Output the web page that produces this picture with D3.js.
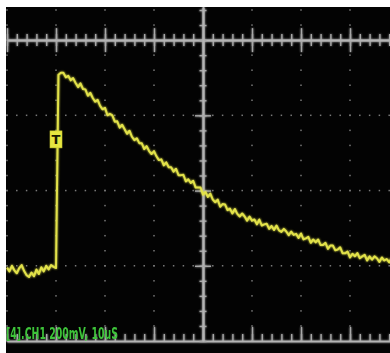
<!DOCTYPE html>
<html>
<head>
<meta charset="utf-8">
<script src="https://cdn.jsdelivr.net/npm/d3@7"></script>
<style>
  html, body { margin: 0; padding: 0; background: #fff; }
  svg { display: block; }
</style>
</head>
<body>
<svg id="scope" width="390" height="353"></svg>
<script>
// captured record: CH1, 0.5 us per sample, starting at -40 us
const T0_US = -40;
const DT_US = 0.5;
const ch1_mV = [
  -605, -615, -600, -612, -620, -606, -598, -614, -625, -630,
  -618, -628, -610, -622, -604, -615, -600, -610, -598, -603,
  -606, -92,
  -87, -87, -99, -95, -107, -101, -114, -125, -115, -130,
  -131, -148, -140, -154, -164, -159, -175, -184, -180, -200,
  -196, -200, -217, -216, -233, -225, -237, -249, -241, -257,
  -266, -261, -274, -274, -290, -282, -295, -303, -295, -309,
  -319, -317, -333, -325, -338, -338, -350, -342, -359, -359,
  -358, -376, -370, -380, -374, -392, -392, -392, -411, -404,
  -417, -408, -424, -431, -424, -443, -436, -437, -452, -448,
  -461, -449, -462, -469, -461, -469, -480, -469, -480, -477,
  -490, -477, -493, -490, -488, -502, -494, -505, -493, -506,
  -510, -502, -509, -519, -509, -518, -515, -526, -514, -530,
  -527, -523, -539, -530, -538, -530, -545, -545, -539, -555,
  -546, -546, -559, -557, -551, -567, -567, -562, -578, -568,
  -575, -566, -580, -575, -571, -586, -575, -584, -575, -580,
  -590, -578, -586, -582, -591, -580
];

// graticule: 10 us/div, 200 mV/div, 5 subdivisions
const majorT = [-40, -30, -20, -10, 0, 10, 20, 30, 40];
const minorT = d3.range(-40, 40.1, 2);
const majorV = [-800, -600, -400, -200, 0];
const minorV = d3.range(-800, 81, 40);

const TRIG_T_US = -30;
const TRIG_LEVEL_MV = -264;
const label = '[4].CH1 200mV, 10uS';

const svg = d3.select('#scope');

const defs = svg.append('defs');
const glow = defs.append('filter').attr('id', 'glow')
  .attr('x', '-10%').attr('y', '-10%').attr('width', '120%').attr('height', '120%');
glow.append('feGaussianBlur').attr('stdDeviation', 1.1).attr('result', 'b');
const merge = glow.append('feMerge');
merge.append('feMergeNode').attr('in', 'b');
merge.append('feMergeNode').attr('in', 'SourceGraphic');

defs.append('clipPath').attr('id', 'screen')
  .append('rect').attr('x', 6).attr('y', 7).attr('width', 384).attr('height', 346);

svg.append('rect')
  .attr('x', 6).attr('y', 7).attr('width', 384).attr('height', 346)
  .attr('fill', '#030303');

const x = d3.scaleLinear().domain([-40, 40]).range([7, 399]);
const y = d3.scaleLinear().domain([-800, 88]).range([341, 7]);

const g = svg.append('g').attr('clip-path', 'url(#screen)');

// dotted grid lines
const dots = g.append('g').attr('fill', '#7a7a7a');
majorV.filter(v => v > -800 && v < 0).forEach(v => {
  dots.selectAll(null)
    .data(minorT)
    .enter().append('rect')
    .attr('x', d => x(d) - 0.75).attr('y', y(v) - 0.75)
    .attr('width', 1.5).attr('height', 1.5);
});
majorT.filter(t => t !== 0).forEach(t => {
  dots.selectAll(null)
    .data(minorV)
    .enter().append('rect')
    .attr('x', x(t) - 0.75).attr('y', d => y(d) - 0.75)
    .attr('width', 1.5).attr('height', 1.5);
});

function styleAxis(sel) {
  sel.selectAll('.domain').attr('stroke', '#b4b4b4').attr('stroke-width', 1.5);
  sel.selectAll('.tick line').attr('stroke', '#a8a8a8').attr('stroke-width', 1.4);
  sel.selectAll('.tick text').remove();
}

const axes = g.append('g').attr('filter', 'url(#glow)');

// horizontal centre axis (top of the visible area)
const topY = y(0);
[[d3.axisBottom, minorT, 6], [d3.axisTop, minorT, 6],
 [d3.axisBottom, majorT, 12], [d3.axisTop, majorT, 12]].forEach(([ax, vals, size]) => {
  axes.append('g')
    .attr('transform', `translate(0,${topY})`)
    .call(ax(x).tickValues(vals).tickSize(size).tickSizeOuter(0).tickFormat(''))
    .call(styleAxis);
});

// bottom edge
[[minorT, 7], [majorT, 14]].forEach(([vals, size]) => {
  axes.append('g')
    .attr('transform', `translate(0,${y(-800)})`)
    .call(d3.axisTop(x).tickValues(vals).tickSize(size).tickSizeOuter(0).tickFormat(''))
    .call(styleAxis);
});

// vertical centre axis
[[d3.axisLeft, minorV, 3.5], [d3.axisRight, minorV, 3.5],
 [d3.axisLeft, majorV.filter(v => v > -800 && v < 0), 8],
 [d3.axisRight, majorV.filter(v => v > -800 && v < 0), 8]].forEach(([ax, vals, size]) => {
  axes.append('g')
    .attr('transform', `translate(${x(0)},0)`)
    .call(ax(y).tickValues(vals).tickSize(size).tickSizeOuter(0).tickFormat(''))
    .call(styleAxis);
});

// trace
const line = d3.line()
  .x((d, i) => x(T0_US + i * DT_US))
  .y(d => y(d));

g.append('path')
  .datum(ch1_mV)
  .attr('d', line)
  .attr('fill', 'none')
  .attr('stroke', '#e2e24a')
  .attr('stroke-width', 2)
  .attr('stroke-linejoin', 'round')
  .attr('filter', 'url(#glow)');

// trigger marker
const trig = g.append('g')
  .attr('transform', `translate(${x(TRIG_T_US)},${y(TRIG_LEVEL_MV)})`);
trig.append('rect')
  .attr('x', -6).attr('y', -8.5).attr('width', 12).attr('height', 17)
  .attr('fill', '#e6e640').attr('stroke', '#c8c830').attr('stroke-width', 0.6);
trig.append('text')
  .attr('text-anchor', 'middle').attr('y', 5)
  .attr('font-family', 'DejaVu Sans, sans-serif').attr('font-weight', 'bold')
  .attr('font-size', 13).attr('fill', '#1a1a00')
  .text('T');

// channel readout
g.append('text')
  .attr('x', 6).attr('y', 339)
  .attr('font-family', 'Liberation Sans Narrow, DejaVu Sans, sans-serif')
  .attr('font-weight', 'bold').attr('font-size', 15)
  .attr('fill', '#3ec43a')
  .attr('textLength', 112).attr('lengthAdjust', 'spacingAndGlyphs')
  .text(label);
</script>
</body>
</html>
